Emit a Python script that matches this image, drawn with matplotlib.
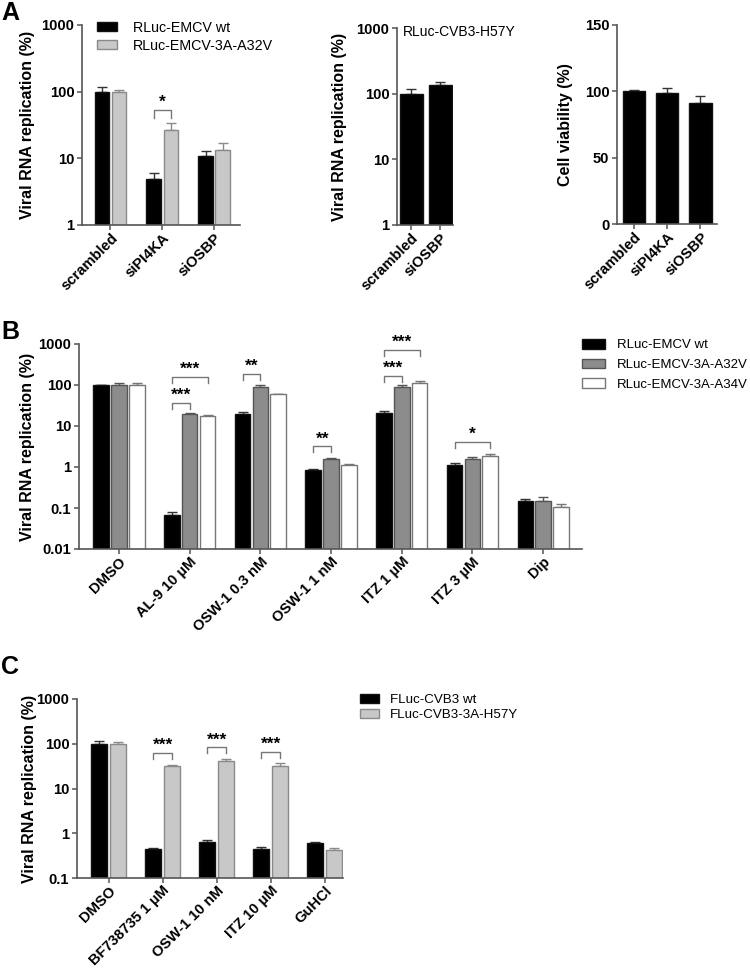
import matplotlib
matplotlib.use("Agg")
import matplotlib.pyplot as plt
import numpy as np

plt.rcParams['font.family'] = ['Liberation Sans', 'DejaVu Sans']

W, H = 750, 968
fig = plt.figure(figsize=(W / 100, H / 100), dpi=100)

# ---------------- data ----------------
a1_cats = ["scrambled", "siPI4KA", "siOSBP"]
a1_wt = [100, 4.9, 10.8]
a1_wt_err = [16, 1.2, 2.3]
a1_mut = [100, 27, 13.5]
a1_mut_err = [6, 7, 3.3]
a1_labels = ["RLuc-EMCV wt", "RLuc-EMCV-3A-A32V"]

a2_cats = ["scrambled", "siOSBP"]
a2_vals = [100, 137]
a2_err = [16, 11]
a2_title = "RLuc-CVB3-H57Y"

a3_cats = ["scrambled", "siPI4KA", "siOSBP"]
a3_vals = [100, 99, 91]
a3_err = [1.2, 3.3, 5.6]

b_cats = ["DMSO", "AL-9 10 µM", "OSW-1 0.3 nM", "OSW-1 1 nM", "ITZ 1 µM", "ITZ 3 µM", "Dip"]
b_wt = [100, 0.066, 19.4, 0.84, 20.3, 1.1, 0.149]
b_wt_err = [2, 0.014, 2.1, 0.04, 3.3, 0.15, 0.018]
b_a32v = [100, 19.9, 90.7, 1.56, 90.7, 1.56, 0.152]
b_a32v_err = [13, 0.4, 9.3, 0.14, 9.3, 0.22, 0.031]
b_a34v = [100, 17.4, 58.9, 1.1, 109, 1.87, 0.108]
b_a34v_err = [9, 1.2, 2.1, 0.1, 13, 0.25, 0.02]
b_labels = ["RLuc-EMCV wt", "RLuc-EMCV-3A-A32V", "RLuc-EMCV-3A-A34V"]

c_cats = ["DMSO", "BF738735 1 µM", "OSW-1 10 nM", "ITZ 10 µM", "GuHCl"]
c_wt = [100, 0.44, 0.64, 0.455, 0.62]
c_wt_err = [18, 0.04, 0.08, 0.045, 0.03]
c_mut = [100, 32, 40.7, 32.6, 0.43]
c_mut_err = [8, 2, 6, 4.9, 0.05]
c_labels = ["FLuc-CVB3 wt", "FLuc-CVB3-3A-H57Y"]

# significance: (group, bar_i, bar_j, y, text)
a1_sig = [(1, 0, 1, 53, "*")]
b_sig = [(1, 0, 1, 37, "***"), (1, 0, 2, 158, "***"), (2, 0, 1, 185, "**"),
         (3, 0, 1, 3.2, "**"), (4, 0, 1, 168, "***"), (4, 0, 2, 713, "***"),
         (5, 0, 2, 4.1, "*")]
c_sig = [(1, 0, 1, 62, "***"), (2, 0, 1, 83, "***"), (3, 0, 1, 66, "***")]

# ---------------- styles ----------------
AX_COL = "#555555"
TICK_FS = 10.6
LAB_FS = 11.5
BLACK = dict(color="#000000", edgecolor="#111111")
LGRAY = dict(color="#c8c8c8", edgecolor="#8a8a8a")
MGRAY = dict(color="#8c8c8c", edgecolor="#555555")
WHITE = dict(color="#ffffff", edgecolor="#777777")


def px_axes(l, r, t, b):
    return fig.add_axes([l / W, 1 - b / H, (r - l) / W, (b - t) / H])


def style(ax):
    for s in ["top", "right"]:
        ax.spines[s].set_visible(False)
    for s in ["left", "bottom"]:
        ax.spines[s].set_color(AX_COL)
        ax.spines[s].set_linewidth(1.2)
    ax.tick_params(axis="both", colors=AX_COL, length=3.5, width=1.1,
                   labelcolor="black", labelsize=TICK_FS, pad=2)
    ax.tick_params(axis="x", pad=0.5)
    ax.tick_params(axis="y", which="minor", length=0)
    for lab in ax.get_yticklabels():
        lab.set_fontweight("bold")


def bars(ax, x, vals, err, st, width, label=None):
    ax.bar(x, vals, width=width, color=st["color"], edgecolor=st["edgecolor"],
           linewidth=1.0, label=label, zorder=2)
    ax.errorbar(x, vals, yerr=[np.zeros(len(vals)), err], fmt="none",
                ecolor=st["edgecolor"] if st["color"] != "#000000" else "#333333",
                elinewidth=1.0, capsize=3.5, capthick=1.0, zorder=1)


def xlabels(ax, cats, fs=TICK_FS):
    ax.set_xticks(np.arange(len(cats)))
    ax.set_xticklabels(cats, rotation=45, ha="right", rotation_mode="anchor",
                       fontweight="bold", fontsize=fs)


def sig(ax, sigs, offs, factor, fs=12.5):
    for g, i, j, y, txt in sigs:
        x1, x2 = g + offs[i], g + offs[j]
        ax.plot([x1, x1, x2, x2], [y * factor, y, y, y * factor], color="#777777",
                lw=1.0, zorder=3)
        ax.annotate(txt, (0.5 * (x1 + x2), y), xytext=(0, 0), textcoords="offset points",
                    ha="center", va="bottom", fontsize=fs, fontweight="bold")


def legend(ax, x, y, fs, hl, hh, tp, ls):
    ax.legend(loc="upper left", bbox_to_anchor=(x / W, 1 - y / H), bbox_transform=fig.transFigure,
              frameon=False, borderpad=0, borderaxespad=0, fontsize=fs, handlelength=hl,
              handleheight=hh, handletextpad=tp, labelspacing=ls)


log_ticks_fmt = lambda v: ("%g" % v)

# ---------------- A1 ----------------
ax = px_axes(82, 240, 25, 225)
x = np.arange(len(a1_cats))
off = 0.165
bars(ax, x - off, a1_wt, a1_wt_err, BLACK, 0.28, a1_labels[0])
bars(ax, x + off, a1_mut, a1_mut_err, LGRAY, 0.28, a1_labels[1])
ax.set_yscale("log")
ax.set_ylim(1, 1000)
ax.set_xlim(-0.55, 2.5)
ax.set_yticks([1, 10, 100, 1000])
ax.set_yticklabels([log_ticks_fmt(v) for v in [1, 10, 100, 1000]])
xlabels(ax, a1_cats)
ax.set_ylabel("Viral RNA replication (%)", fontsize=LAB_FS, fontweight="bold")
ax.yaxis.set_label_coords(-0.297, 0.5)
style(ax)
sig(ax, a1_sig, [-off, off], 0.75)
legend(ax, 97, 21, 10.3, 1.4, 0.6, 1.1, 0.25)

# ---------------- A2 ----------------
ax = px_axes(397, 453, 28, 225)
x = np.arange(len(a2_cats))
bars(ax, x, a2_vals, a2_err, BLACK, 0.8)
ax.set_yscale("log")
ax.set_ylim(1, 1000)
ax.set_xlim(-0.5, 1.45)
ax.set_yticks([1, 10, 100, 1000])
ax.set_yticklabels([log_ticks_fmt(v) for v in [1, 10, 100, 1000]])
xlabels(ax, a2_cats)
ax.set_ylabel("Viral RNA replication (%)", fontsize=LAB_FS, fontweight="bold")
ax.yaxis.set_label_coords(-0.89, 0.5)
style(ax)
ax.text(0.107, 0.98, a2_title, transform=ax.transAxes, ha="left", va="center",
        fontsize=10, clip_on=False)

# ---------------- A3 ----------------
ax = px_axes(617, 717, 25, 224)
x = np.arange(len(a3_cats))
bars(ax, x, a3_vals, a3_err, BLACK, 0.67)
ax.set_ylim(0, 150)
ax.set_xlim(-0.52, 2.5)
ax.set_yticks([0, 50, 100, 150])
xlabels(ax, a3_cats)
ax.set_ylabel("Cell viability (%)", fontsize=LAB_FS, fontweight="bold")
ax.yaxis.set_label_coords(-0.44, 0.5)
style(ax)

# ---------------- B ----------------
ax = px_axes(79, 582, 344, 549)
x = np.arange(len(b_cats))
offb = [-0.252, 0.0, 0.252]
bars(ax, x + offb[0], b_wt, b_wt_err, BLACK, 0.22, b_labels[0])
bars(ax, x + offb[1], b_a32v, b_a32v_err, MGRAY, 0.22, b_labels[1])
bars(ax, x + offb[2], b_a34v, b_a34v_err, WHITE, 0.22, b_labels[2])
ax.set_yscale("log")
ax.set_ylim(0.01, 1000)
ax.set_xlim(-0.566, 6.55)
bt = [0.01, 0.1, 1, 10, 100, 1000]
ax.set_yticks(bt)
ax.set_yticklabels([log_ticks_fmt(v) for v in bt])
xlabels(ax, b_cats)
ax.set_ylabel("Viral RNA replication (%)", fontsize=LAB_FS, fontweight="bold")
ax.yaxis.set_label_coords(-0.0875, 0.5)
style(ax)
sig(ax, b_sig, offb, 0.72)
legend(ax, 582, 339, 9.5, 1.75, 0.75, 0.9, 0.55)

# ---------------- C ----------------
ax = px_axes(77, 343, 699, 878)
x = np.arange(len(c_cats))
offc = [-0.176, 0.176]
bars(ax, x + offc[0], c_wt, c_wt_err, BLACK, 0.3, c_labels[0])
bars(ax, x + offc[1], c_mut, c_mut_err, LGRAY, 0.3, c_labels[1])
ax.set_yscale("log")
ax.set_ylim(0.1, 1000)
ax.set_xlim(-0.583, 4.34)
ct = [0.1, 1, 10, 100, 1000]
ax.set_yticks(ct)
ax.set_yticklabels([log_ticks_fmt(v) for v in ct])
xlabels(ax, c_cats, fs=10.2)
ax.set_ylabel("Viral RNA replication (%)", fontsize=LAB_FS, fontweight="bold")
ax.yaxis.set_label_coords(-0.15, 0.5)
style(ax)
sig(ax, c_sig, offc, 0.73)
legend(ax, 360, 694, 9.6, 1.43, 0.6, 0.83, 0.25)

# panel letters
for letter, (lx, ly) in {"A": (1, 1), "B": (1, 320), "C": (1, 655)}.items():
    fig.text(lx / W, 1 - ly / H, letter, fontsize=18, fontweight="bold", ha="left", va="top")

fig.savefig("out.png", dpi=100)
